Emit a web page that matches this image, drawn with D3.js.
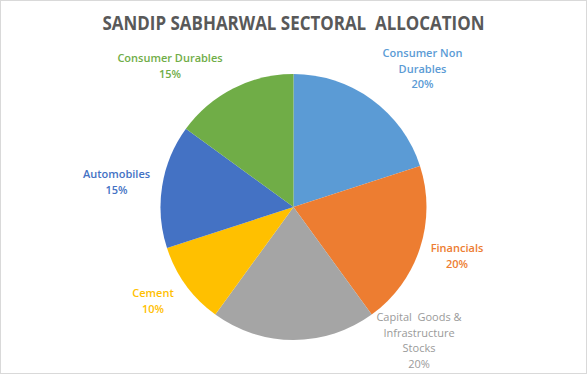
<!DOCTYPE html>
<html>
<head>
<meta charset="utf-8">
<script src="https://cdn.jsdelivr.net/npm/d3@7"></script>
<style>
  body { margin: 0; background: #fff; }
  svg { display: block; font-family: "Open Sans", sans-serif; }
</style>
</head>
<body>
<div id="chart"></div>
<script>
// data
const sectors = ["Consumer Non Durables", "Financials", "Capital Goods & Infrastructure Stocks", "Cement", "Automobiles", "Consumer Durables"];
const shares = [20, 20, 20, 10, 15, 15];
const colors = ["#5B9BD5", "#ED7D31", "#A5A5A5", "#FFC000", "#4472C4", "#70AD47"];

// label layout (line breaks + offset of first baseline from pie centre)
const labelLines = [["Consumer Non", "Durables"], ["Financials"], ["Capital  Goods &", "Infrastructure", "Stocks"], ["Cement"], ["Automobiles"], ["Consumer Durables"]];
const labelOffset = [[129, -150], [163.5, 45], [125.5, 114], [-140.5, 90], [-177, -29], [-123.5, -145]];

const width = 587, height = 374;
const cx = 293.5, cy = 207, radius = 133;

let svg = d3.select("#chart").append("svg")
    .attr("width", width).attr("height", height)
    .attr("viewBox", [0, 0, width, height]);

svg.append("rect")
    .attr("x", 0.5).attr("y", 0.5)
    .attr("width", width - 1).attr("height", height - 1)
    .attr("fill", "#fff").attr("stroke", "#d9d9d9");

svg.append("text")
    .attr("x", width / 2).attr("y", 30)
    .attr("text-anchor", "middle")
    .attr("font-size", 19).attr("font-weight", "bold")
    .attr("fill", "#595959")
    .attr("textLength", 382).attr("lengthAdjust", "spacingAndGlyphs")
    .style("white-space", "pre")
    .text("SANDIP SABHARWAL SECTORAL  ALLOCATION");

const data = sectors.map((s, i) => ({name: s, value: shares[i], i: i}));

const pie = d3.pie().value(d => d.value).sort(null);
const arc = d3.arc().innerRadius(0).outerRadius(radius);

let g = svg.append("g").attr("transform", `translate(${cx},${cy})`);

g.selectAll("path")
    .data(pie(data))
    .join("path")
    .attr("d", arc)
    .attr("fill", d => colors[d.data.i]);

let lab = g.selectAll(".lab")
    .data(pie(data))
    .join("text")
    .attr("class", "lab")
    .attr("text-anchor", "middle")
    .attr("font-size", 11)
    .attr("font-weight", d => d.data.i === 2 ? "normal" : 600)
    .attr("fill", d => d.data.i === 2 ? "#9a9a9a" : colors[d.data.i])
    .style("white-space", "pre")
    .attr("transform", d => `translate(${labelOffset[d.data.i][0]},${labelOffset[d.data.i][1]})`);

lab.each(function(d) {
    let t = d3.select(this);
    let lines = labelLines[d.data.i].concat([d.data.value + "%"]);
    lines.forEach((l, k) => {
        t.append("tspan").attr("x", 0).attr("y", k * 15.7).text(l);
    });
});
</script>
</body>
</html>
